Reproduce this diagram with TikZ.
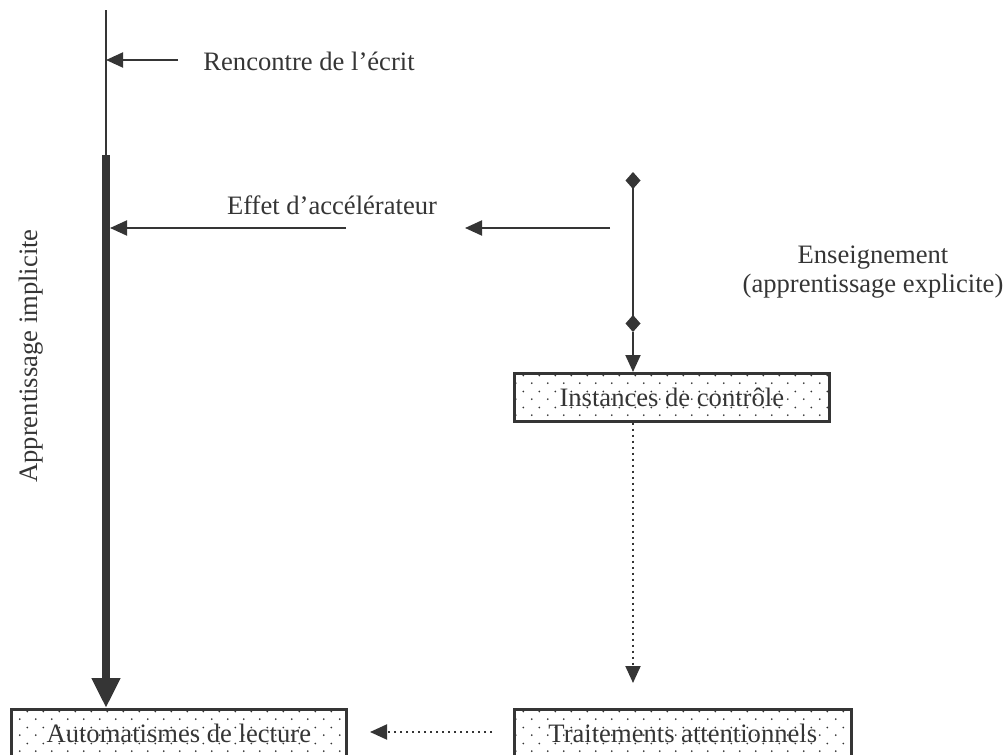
\documentclass[tikz,border=0pt]{standalone}
\usepackage{fontspec}
\setmainfont{Liberation Serif}
\usetikzlibrary{arrows.meta,patterns.meta}
\definecolor{ink}{HTML}{353535}
\tikzdeclarepattern{name=sparsedots, type=uncolored,
  bounding box={(0pt,0pt) and (8pt,8pt)}, tile size={(8pt,8pt)},
  code={\fill (2pt,2pt) circle (0.5pt); \fill (6pt,6pt) circle (0.5pt);}}
\tikzset{
  lbl/.style={text=ink, inner sep=0pt, font=\fontsize{13.3}{14.5}\selectfont},
  pbox/.style={lbl, draw=ink, line width=1.3pt, pattern=sparsedots, pattern color=ink,
    minimum height=24pt, anchor=north west},
  thin/.style={draw=ink, line width=1pt},
  dotline/.style={thin, dotted}
}
\begin{document}
\begin{tikzpicture}[x=0.5pt, y=-0.5pt, >={Triangle[length=8.5pt,width=7.5pt]}]
\useasboundingbox (0,0) rectangle (1007,755);
\clip (0,0) rectangle (1007,755);

\node[pbox, minimum width=167.5pt] (auto) at (10,708) {Automatismes de lecture};
\node[pbox, minimum width=157.5pt] (inst) at (513,372) {Instances de contr\^ole};
\node[pbox, minimum width=168.5pt] (trait) at (513,708) {Traitements attentionnels};

\coordinate (line top) at (106,10);
\coordinate (bar top) at (106,155);
\coordinate (renc) at (178,60);
\coordinate (acc a) at (346,228);
\coordinate (acc a tip) at (110,228);
\coordinate (acc b) at (610,228);
\coordinate (acc b tip) at (465,228);
\coordinate (ens top) at (633,172);
\coordinate (ens mid) at (633,332);
\coordinate (att tip) at (633,683);
\coordinate (dot a) at (492,732);
\coordinate (dot a tip) at (370,732);

\draw[thin] (line top) -- (bar top);
\draw[draw=ink, line width=4pt, -{Triangle[length=15pt,width=13.5pt]}] (bar top) -- (bar top |- auto.north);
\draw[thin, ->] (renc) -- (renc -| line top);
\draw[thin, ->] (acc a) -- (acc a tip);
\draw[thin, ->] (acc b) -- (acc b tip);
\draw[thin, {Diamond[length=8.5pt,width=7.5pt]}-{Diamond[length=8.5pt,width=7.5pt]}] (ens top) -- (ens mid);
\draw[thin, ->] (ens mid) -- (ens mid |- inst.north);
\draw[dotline, ->] (att tip |- inst.south) -- (att tip);
\draw[dotline, ->] (dot a) -- (dot a tip);

\node[lbl, anchor=base west] (renc lbl) at (203,70) {Rencontre de l’écrit};
\node[lbl, anchor=base] (acc lbl) at (332,214) {Effet d’accélérateur};
\node[lbl, align=center] (ens lbl) at (873,272) {Enseignement\\(apprentissage explicite)};
\node[lbl, rotate=90] (impl lbl) at (31,356) {Apprentissage implicite};
\end{tikzpicture}
\end{document}
